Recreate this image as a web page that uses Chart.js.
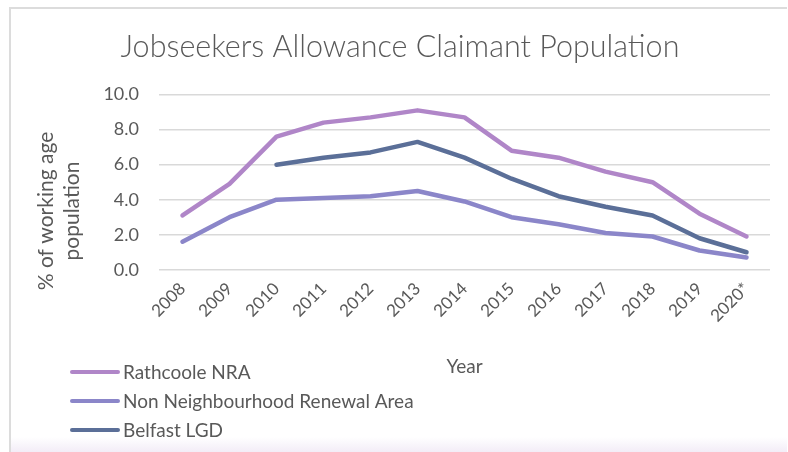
<!DOCTYPE html>
<html>
<head>
<meta charset="utf-8">
<script src="https://cdn.jsdelivr.net/npm/chart.js@4/dist/chart.umd.min.js"></script>
<style>
  html, body { margin: 0; padding: 0; background: #ffffff; }
  #wrap { position: relative; width: 788px; height: 452px; overflow: hidden; }
  #frame { position: absolute; left: 9px; top: 7px; width: 778px; height: 445px;
           border-left: 2px solid #dcdcdc; border-top: 2px solid #dcdcdc; box-sizing: border-box;
           background: linear-gradient(to bottom, #ffffff 0px, #ffffff 428px, #f1eaf6 445px); }
  canvas { position: absolute; left: 0; top: 0; }
</style>
</head>
<body>
<div id="wrap">
  <div id="frame"></div>
  <canvas id="c" width="788" height="452"></canvas>
</div>
<script>
const categories = ["2008","2009","2010","2011","2012","2013","2014","2015","2016","2017","2018","2019","2020*"];
const rathcooleNRA = [3.1, 4.9, 7.6, 8.4, 8.7, 9.1, 8.7, 6.8, 6.4, 5.6, 5.0, 3.2, 1.9];
const nonNRA = [1.6, 3.0, 4.0, 4.1, 4.2, 4.5, 3.9, 3.0, 2.6, 2.1, 1.9, 1.1, 0.7];
const belfastLGD = [null, null, 6.0, 6.4, 6.7, 7.3, 6.4, 5.2, 4.2, 3.6, 3.1, 1.8, 1.0];
const yTicks = [0, 2, 4, 6, 8, 10];
const yTitleLines = ["% of working age", "population"];

const FONT = "Lato, 'Liberation Sans', sans-serif";
const TXT = "#595959";

const textPlugin = {
  id: 'extraText',
  afterDraw(chart) {
    const ctx = chart.ctx;
    ctx.save();
    // y-axis title (two lines, rotated)
    ctx.font = "21px " + FONT;
    ctx.fillStyle = TXT;
    ctx.textAlign = "center";
    ctx.textBaseline = "middle";
    yTitleLines.forEach((t, i) => {
      ctx.save();
      ctx.translate(46 + i * 26, 211);
      ctx.rotate(-Math.PI / 2);
      ctx.fillText(t, 0, 0);
      ctx.restore();
    });
    // legend (vertical list)
    ctx.font = "19px " + FONT;
    ctx.textAlign = "left";
    chart.data.datasets.forEach((ds, i) => {
      const y = 372 + i * 29;
      ctx.strokeStyle = ds.borderColor;
      ctx.lineWidth = 4;
      ctx.lineCap = "round";
      ctx.beginPath(); ctx.moveTo(72, y); ctx.lineTo(118, y); ctx.stroke();
      ctx.fillStyle = TXT;
      ctx.fillText(ds.label, 123, y + 1);
    });
    ctx.restore();
  }
};

new Chart(document.getElementById('c'), {
  type: 'line',
  data: {
    labels: categories,
    datasets: [
      { label: "Rathcoole NRA", data: rathcooleNRA, borderColor: "#b086c8", backgroundColor: "#b086c8" },
      { label: "Non Neighbourhood Renewal Area", data: nonNRA, borderColor: "#8b86c9", backgroundColor: "#8b86c9" },
      { label: "Belfast LGD", data: belfastLGD, borderColor: "#5b6f98", backgroundColor: "#5b6f98" }
    ].map(d => Object.assign(d, { borderWidth: 4.5, pointRadius: 0, tension: 0, spanGaps: false, borderCapStyle: 'round', borderJoinStyle: 'round' }))
  },
  options: {
    responsive: false,
    animation: false,
    layout: { padding: { left: 30, right: 18, top: 0, bottom: 74 } },
    plugins: {
      legend: { display: false },
      tooltip: { enabled: false },
      title: {
        display: true,
        text: "Jobseekers Allowance Claimant Population",
        color: TXT,
        font: { family: FONT, size: 30.5, weight: '300' },
        padding: { top: 29, bottom: 29 }
      }
    },
    scales: {
      x: {
        offset: true,
        grid: { display: false, drawTicks: false },
        border: { display: false },
        ticks: { color: TXT, font: { family: FONT, size: 17 }, minRotation: 45, maxRotation: 45, padding: 9, autoSkip: false },
        title: { display: true, text: "Year", color: TXT, font: { family: FONT, size: 19 }, padding: { top: 20, bottom: 0 } }
      },
      y: {
        min: 0, max: 10,
        afterBuildTicks(scale) { scale.ticks = yTicks.map(v => ({ value: v })); },
        afterFit(scale) { scale.width = 129; },
        grid: { color: "#d9d9d9", lineWidth: 1.5, drawTicks: false },
        border: { display: false },
        ticks: { color: TXT, font: { family: FONT, size: 18 }, padding: 20, callback: v => Number(v).toFixed(1) }
      }
    }
  },
  plugins: [textPlugin]
});
</script>
</body>
</html>
